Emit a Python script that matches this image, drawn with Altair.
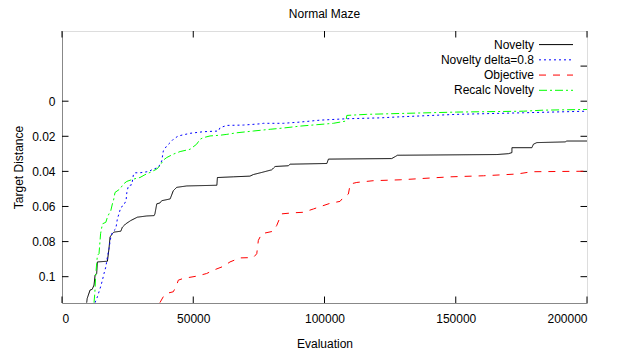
import altair as alt
import pandas as pd

series_names = ["Novelty", "Novelty delta=0.8", "Objective", "Recalc Novelty"]
series_colors = ["#000000", "#0000ff", "#ff0000", "#00ff00"]
series_dash = [[1, 0], [2, 3], [7, 7], [8, 3, 2, 3]]

nov_x = [9400, 9600, 10700, 11500, 12200, 12600, 13200, 13500, 17300, 17900, 18300, 19200, 19800,
         22400, 23000, 24300, 26200, 28700, 32300, 35100, 35400, 36100, 37300, 38000, 41200, 42400,
         43100, 43700, 47500, 59000, 59200, 65300, 71600, 72900, 76100, 79900, 81200, 86200, 86900,
         100900, 101500, 125600, 126900, 127800, 165700, 170100, 171400, 171400, 179000, 179600,
         180900, 191700, 192300, 200000]
nov_y = [0.1148, 0.1124, 0.1076, 0.1072, 0.1048, 0.0992, 0.0982, 0.0916, 0.0912, 0.0840, 0.0774,
         0.0755, 0.0746, 0.0741, 0.0718, 0.0699, 0.0680, 0.0661, 0.0654, 0.0652, 0.0642, 0.0585,
         0.0580, 0.0567, 0.0557, 0.0510, 0.0500, 0.0491, 0.0483, 0.0479, 0.0435, 0.0431, 0.0427,
         0.0418, 0.0406, 0.0391, 0.0372, 0.0368, 0.0359, 0.0355, 0.0330, 0.0327, 0.0316, 0.0308,
         0.0304, 0.0299, 0.0293, 0.0265, 0.0265, 0.0245, 0.0236, 0.0232, 0.0227, 0.0227]

delta_x = [12600, 13500, 14100, 14700, 15400, 16000, 16700, 17300, 17900, 18600, 19200, 20500,
           21100, 21700, 22400, 23400, 24400, 24700, 25300, 26600, 27200, 27800, 29700, 32900,
           34800, 36700, 38000, 38600, 39900, 41200, 42400, 44300, 48800, 53800, 59600, 60200,
           62800, 69100, 75500, 76700, 84300, 90700, 98300, 108500, 121200, 128800, 150400,
           175800, 200000]
delta_y = [0.1148, 0.1114, 0.1086, 0.1058, 0.1020, 0.0982, 0.0944, 0.0888, 0.0840, 0.0774, 0.0746,
           0.0727, 0.0670, 0.0642, 0.0605, 0.0595, 0.0567, 0.0520, 0.0482, 0.0476, 0.0419, 0.0408,
           0.0408, 0.0401, 0.0387, 0.0378, 0.0340, 0.0283, 0.0255, 0.0236, 0.0217, 0.0198, 0.0183,
           0.0174, 0.0170, 0.0151, 0.0138, 0.0136, 0.0129, 0.0126, 0.0126, 0.0119, 0.0108, 0.0100,
           0.0095, 0.0089, 0.0075, 0.0066, 0.0057]

obj_x = [37300, 38600, 39900, 42400, 43700, 44300, 46200, 51300, 55100, 57700, 61500, 64000,
         67800, 72900, 74200, 74800, 76100, 80500, 81800, 83100, 83700, 88100, 92000, 95800,
         102100, 105900, 107200, 109100, 109800, 112300, 118600, 128800, 147900, 160600, 173300,
         179000, 200000]
obj_y = [0.1148, 0.1114, 0.1095, 0.1086, 0.1048, 0.1020, 0.1010, 0.0997, 0.0982, 0.0963, 0.0941,
         0.0916, 0.0893, 0.0891, 0.0869, 0.0793, 0.0755, 0.0741, 0.0708, 0.0661, 0.0642, 0.0636,
         0.0633, 0.0614, 0.0582, 0.0571, 0.0548, 0.0529, 0.0472, 0.0463, 0.0453, 0.0448, 0.0431,
         0.0425, 0.0415, 0.0402, 0.0399]

recalc_x = [12200, 12500, 12800, 13200, 13500, 14100, 14700, 15400, 16700, 17300, 17900, 18600,
            19200, 19600, 20200, 22100, 23400, 24700, 27200, 29700, 31600, 33500, 36100, 37300,
            38600, 39900, 42400, 45000, 48800, 51300, 52600, 53800, 56400, 60200, 62800, 66600,
            72900, 79300, 84300, 90700, 103400, 108200, 108500, 116100, 128800, 150400, 175800,
            183400, 200000]
recalc_y = [0.1148, 0.1095, 0.1001, 0.0925, 0.0878, 0.0869, 0.0755, 0.0699, 0.0690, 0.0661, 0.0642,
            0.0623, 0.0585, 0.0567, 0.0520, 0.0500, 0.0472, 0.0457, 0.0444, 0.0435, 0.0419, 0.0406,
            0.0387, 0.0368, 0.0336, 0.0321, 0.0302, 0.0287, 0.0274, 0.0245, 0.0217, 0.0208, 0.0198,
            0.0194, 0.0189, 0.0180, 0.0170, 0.0160, 0.0153, 0.0142, 0.0126, 0.0113, 0.0081, 0.0075,
            0.0070, 0.0062, 0.0057, 0.0051, 0.0047]

x_ticks = [0, 50000, 100000, 150000, 200000]
y_ticks_left = [0, 0.02, 0.04, 0.06, 0.08, 0.1]
y_ticks_right = [-0.02, 0, 0.02, 0.04, 0.06, 0.08, 0.1]

rows = []
for name, xs, ys in zip(series_names, [nov_x, delta_x, obj_x, recalc_x],
                        [nov_y, delta_y, obj_y, recalc_y]):
    for i, (xv, yv) in enumerate(zip(xs, ys)):
        rows.append({"series": name, "x": xv, "y": yv, "i": i})
df = pd.DataFrame(rows)
legend_df = pd.DataFrame({"series": series_names, "rank": list(range(len(series_names)))})

W, H = 525, 272
FONT = "Liberation Sans"
TICK = 6.5

xscale = alt.Scale(domain=[0, 200000], nice=False, zero=False)
yscale = alt.Scale(domain=[-0.04, 0.115], nice=False, zero=False, reverse=True)
cscale = alt.Scale(domain=series_names, range=series_colors)
dscale = alt.Scale(domain=series_names, range=series_dash)

x_axis = alt.Axis(values=x_ticks, format="d", ticks=False, grid=False, orient="bottom",
                  labelPadding=10, titlePadding=14, titleFontWeight="normal",
                  titleFont=FONT, titleFontSize=12, labelFont=FONT, labelFontSize=12)
y_axis = alt.Axis(values=y_ticks_left, format="~g", ticks=False, grid=False, orient="left",
                  labelPadding=7, titlePadding=6, titleFontWeight="normal",
                  titleFont=FONT, titleFontSize=12, labelFont=FONT, labelFontSize=12)

lines = alt.Chart(df).mark_line(strokeWidth=1, clip=True).encode(
    x=alt.X("x:Q", scale=xscale, title="Evaluation", axis=x_axis),
    y=alt.Y("y:Q", scale=yscale, title="Target Distance", axis=y_axis),
    color=alt.Color("series:N", scale=cscale, legend=None),
    strokeDash=alt.StrokeDash("series:N", scale=dscale, legend=None),
    order=alt.Order("i:Q"),
)

xt = pd.DataFrame({"v": x_ticks})
ytl = pd.DataFrame({"v": y_ticks_left})
ytr = pd.DataFrame({"v": y_ticks_right})

tick_bottom = alt.Chart(xt).mark_rule(color="#000000", strokeWidth=1).encode(
    x=alt.X("v:Q", scale=xscale, title="Evaluation", axis=x_axis),
    y=alt.value(H), y2=alt.value(H - TICK))
tick_top = alt.Chart(xt).mark_rule(color="#000000", strokeWidth=1).encode(
    x=alt.X("v:Q", scale=xscale, title="Evaluation", axis=x_axis),
    y=alt.value(0), y2=alt.value(TICK))
tick_left = alt.Chart(ytl).mark_rule(color="#000000", strokeWidth=1).encode(
    y=alt.Y("v:Q", scale=yscale, title="Target Distance", axis=y_axis),
    x=alt.value(0), x2=alt.value(TICK))
tick_right = alt.Chart(ytr).mark_rule(color="#000000", strokeWidth=1).encode(
    y=alt.Y("v:Q", scale=yscale, title="Target Distance", axis=y_axis),
    x=alt.value(W - TICK), x2=alt.value(W))

main = alt.layer(tick_bottom, tick_top, tick_left, tick_right, lines)

lscale = alt.Scale(domain=[0, 3], range=[13.6, 59.3])
leg_text = alt.Chart(legend_df).mark_text(
    align="right", baseline="middle", fontSize=12, font=FONT, color="#000000"
).encode(
    x=alt.value(472),
    y=alt.Y("rank:Q", scale=lscale, axis=None),
    text="series:N",
)
leg_line = alt.Chart(legend_df).mark_rule(strokeWidth=1).encode(
    x=alt.value(477), x2=alt.value(511),
    y=alt.Y("rank:Q", scale=lscale, axis=None),
    color=alt.Color("series:N", scale=cscale, legend=None),
    strokeDash=alt.StrokeDash("series:N", scale=dscale, legend=None),
)
legend = alt.layer(leg_text, leg_line)

chart = alt.layer(main, legend).resolve_scale(y="independent").properties(
    width=W, height=H,
    title=alt.TitleParams("Normal Maze", anchor="middle", fontSize=12, font=FONT,
                          fontWeight="normal", color="#000000", offset=10),
    autosize=alt.AutoSizeParams(type="none"),
    padding={"left": 54, "top": 23, "right": 20, "bottom": 46},
).configure_view(stroke="#000000", strokeWidth=1).configure_axis(
    labelFont=FONT, titleFont=FONT, labelFontSize=12, titleFontSize=12,
    titleFontWeight="normal", labelColor="#000000", titleColor="#000000",
    domainColor="#000000", domainWidth=1,
).configure(background="#ffffff")

chart.save("out.html", embed_options={"renderer": "svg", "actions": False})
